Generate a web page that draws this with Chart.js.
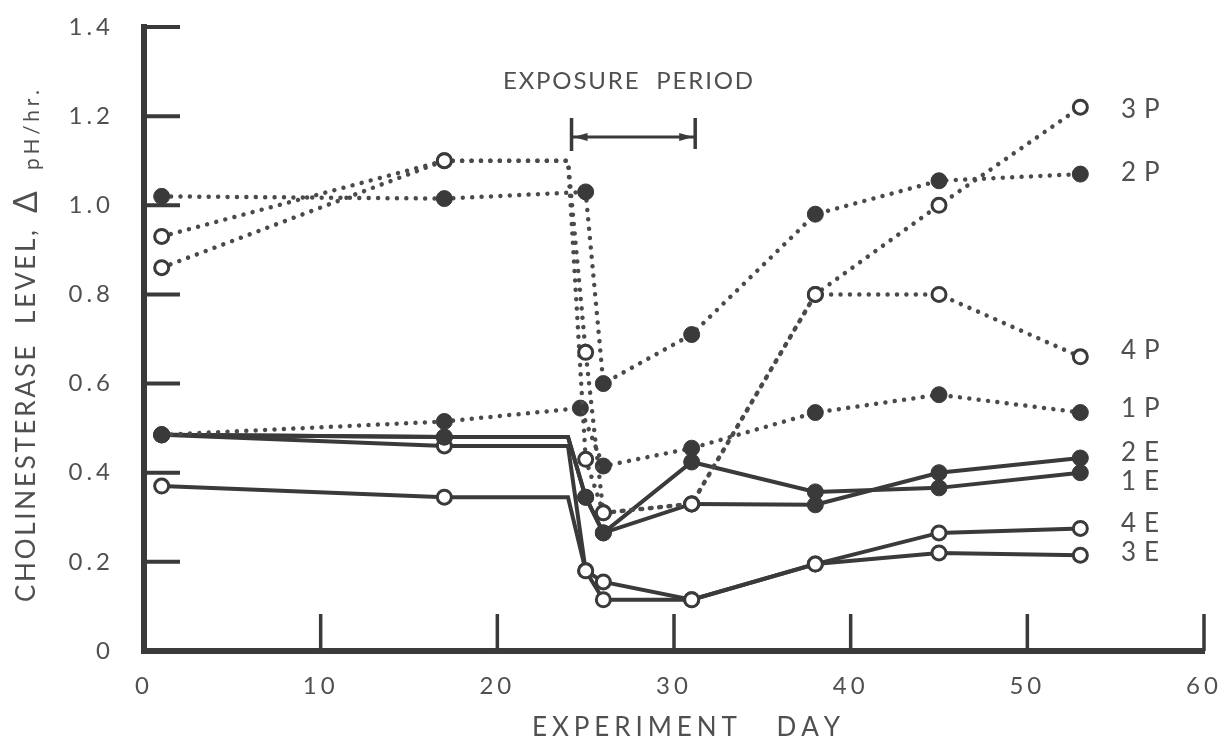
<!DOCTYPE html>
<html lang="en">
<head>
<meta charset="UTF-8">
<title>Cholinesterase level vs experiment day</title>
<script src="https://cdn.jsdelivr.net/npm/chart.js"></script>
<style>
    body { margin: 0; background: #fff; }
    #wrap { width: 1218px; height: 742px; }
</style>
</head>
<body>
<div id="wrap"><canvas id="chart" width="1218" height="742"></canvas></div>
<script>
// ---- data ----
const days3P = [1, 17, 24, 25, 26, 31, 38, 45, 53];
const vals3P = [0.93, 1.10, 1.10, 0.67, 0.31, 0.33, 0.80, 1.00, 1.22];
const days4P = [1, 17, 24, 25, 26, 31, 38, 45, 53];
const vals4P = [0.86, 1.10, 1.10, 0.43, 0.31, 0.33, 0.80, 0.80, 0.66];
const days2P = [1, 17, 25, 26, 31, 38, 45, 53];
const vals2P = [1.02, 1.015, 1.03, 0.60, 0.71, 0.98, 1.055, 1.07];
const days1P = [1, 17, 24.7, 26, 31, 38, 45, 53];
const vals1P = [0.485, 0.515, 0.545, 0.415, 0.455, 0.535, 0.575, 0.535];

const days1E = [1, 17, 24, 25, 26, 31, 38, 45, 53];
const vals1E = [0.485, 0.48, 0.48, 0.345, 0.265, 0.424, 0.357, 0.366, 0.40];
const days2E = [1, 17, 24, 25, 26, 31, 38, 45, 53];
const vals2E = [0.485, 0.48, 0.48, 0.345, 0.265, 0.33, 0.328, 0.40, 0.433];
const days3E = [1, 17, 24, 25, 26, 31, 38, 45, 53];
const vals3E = [0.37, 0.345, 0.345, 0.18, 0.115, 0.115, 0.195, 0.22, 0.215];
const days4E = [1, 17, 24, 25, 26, 31, 38, 45, 53];
const vals4E = [0.485, 0.46, 0.46, 0.18, 0.155, 0.115, 0.195, 0.265, 0.275];

// day where lines turn a corner without a plotted marker
const cornerDays = [24];

const xTickLabels = ['0', '10', '20', '30', '40', '50', '60'];
const yTickLabels = ['0', '0.2', '0.4', '0.6', '0.8', '1.0', '1.2', '1.4'];

// end-of-line labels (text, level)
const endLabels = ['3P', '2P', '4P', '1P', '2E', '1E', '4E', '3E'];
const endLevels = [1.215, 1.074, 0.674, 0.543, 0.446, 0.379, 0.285, 0.220];
const exposureDays = [24.2, 31.2];

// ---- styling ----
const ink = '#3a3a3a';
const dotInk = '#4a4a4a';
const textInk = '#505050';
const fontFamily = "Lato, 'DejaVu Sans', sans-serif";

function makeSet(label, days, vals, dotted, open) {
    return {
        label: label,
        data: days.map((d, i) => ({ x: d, y: vals[i] })),
        showLine: true,
        borderColor: dotted ? dotInk : ink,
        borderWidth: dotted ? 4.5 : 4,
        borderDash: dotted ? [0.01, 9.4] : [],
        borderCapStyle: 'round',
        tension: 0,
        pointStyle: 'circle',
        pointRadius: ctx => cornerDays.includes(ctx.raw.x) ? 0 : (open ? 7 : 8),
        pointBackgroundColor: open ? '#fff' : ink,
        pointBorderColor: ink,
        pointBorderWidth: open ? 3 : 1
    };
}

// first dataset ends up on top
const datasets = [
    makeSet('3P', days3P, vals3P, true, true),
    makeSet('4P', days4P, vals4P, true, true),
    makeSet('1P', days1P, vals1P, true, false),
    makeSet('2P', days2P, vals2P, true, false),
    makeSet('1E', days1E, vals1E, false, false),
    makeSet('2E', days2E, vals2E, false, false),
    makeSet('3E', days3E, vals3E, false, true),
    makeSet('4E', days4E, vals4E, false, true)
];

// draws chars one by one so the text fills a given span
function spreadText(ctx, text, x0, y0, span) {
    const widths = [...text].map(c => ctx.measureText(c).width);
    const total = widths.reduce((a, b) => a + b, 0);
    const gap = text.length > 1 ? (span - total) / (text.length - 1) : 0;
    let x = x0;
    [...text].forEach((c, i) => {
        ctx.fillText(c, x, y0);
        x += widths[i] + gap;
    });
}

const decor = {
    id: 'decor',
    beforeDraw(chart) {
        // the old lettering is widely spaced
        chart.ctx.letterSpacing = '4px';
    },
    beforeDatasetsDraw(chart) {
        const { ctx, scales: { x, y } } = chart;
        ctx.letterSpacing = '0px';
        ctx.save();
        ctx.strokeStyle = ink;
        ctx.fillStyle = ink;
        ctx.lineWidth = 4;
        // inward ticks
        yTickLabels.forEach((t, i) => {
            if (i === 0) return;
            const py = y.getPixelForValue(i * 0.2);
            ctx.beginPath();
            ctx.moveTo(x.left, py);
            ctx.lineTo(x.left + 36, py);
            ctx.stroke();
        });
        ctx.lineWidth = 3.5;
        xTickLabels.forEach((t, i) => {
            if (i === 0) return;
            const px = x.getPixelForValue(i * 10);
            ctx.beginPath();
            ctx.moveTo(px, y.bottom);
            ctx.lineTo(px, y.bottom - 37);
            ctx.stroke();
        });
        // exposure bracket
        const bx0 = x.getPixelForValue(exposureDays[0]);
        const bx1 = x.getPixelForValue(exposureDays[1]);
        const by = y.getPixelForValue(1.153);
        ctx.lineWidth = 3.5;
        ctx.beginPath();
        ctx.moveTo(bx0, by - 19); ctx.lineTo(bx0, by + 14);
        ctx.moveTo(bx1, by - 19); ctx.lineTo(bx1, by + 12);
        ctx.stroke();
        ctx.lineWidth = 3;
        ctx.beginPath();
        ctx.moveTo(bx0, by); ctx.lineTo(bx1, by);
        ctx.stroke();
        [[bx0, 1], [bx1, -1]].forEach(([px, dir]) => {
            ctx.beginPath();
            ctx.moveTo(px + dir * 2, by);
            ctx.lineTo(px + dir * 16, by - 4);
            ctx.lineTo(px + dir * 16, by + 4);
            ctx.closePath();
            ctx.fill();
        });
        ctx.restore();
    },
    afterDraw(chart) {
        const { ctx, scales: { x, y } } = chart;
        ctx.save();
        ctx.letterSpacing = '0px';
        ctx.fillStyle = textInk;
        ctx.textBaseline = 'middle';
        ctx.textAlign = 'left';

        // exposure label
        ctx.font = `400 24px ${fontFamily}`;
        spreadText(ctx, 'EXPOSURE  PERIOD', 503, 81, 250);

        // x title
        ctx.font = `400 26px ${fontFamily}`;
        spreadText(ctx, 'EXPERIMENT   DAY', 532, 728, 308);

        // end labels
        ctx.font = `400 26px ${fontFamily}`;
        endLabels.forEach((t, i) => {
            const py = y.getPixelForValue(endLevels[i]);
            const px = x.getPixelForValue(55.3);
            ctx.fillText(t[0], px, py);
            ctx.fillText(t[1], px + ctx.measureText(t[0]).width + 8, py);
        });

        // y title, rotated
        ctx.translate(27, 602);
        ctx.rotate(-Math.PI / 2);
        ctx.font = `400 26px ${fontFamily}`;
        spreadText(ctx, 'CHOLINESTERASE  LEVEL,', 0, 0, 372);
        ctx.font = `400 32px ${fontFamily}`;
        ctx.fillText('\u0394', 389, 0);
        ctx.font = `400 21px ${fontFamily}`;
        spreadText(ctx, 'pH/hr.', 432, 5, 80);
        ctx.restore();
    }
};

new Chart(document.getElementById('chart'), {
    type: 'line',
    data: { datasets: datasets },
    options: {
        responsive: false,
        animation: false,
        devicePixelRatio: 1,
        layout: { padding: { top: 27, right: 14, left: 0, bottom: 0 } },
        plugins: { legend: { display: false }, tooltip: { enabled: false } },
        scales: {
            x: {
                type: 'linear',
                min: 0,
                max: 60,
                afterFit: s => { s.height = 91; s.paddingLeft = 0; s.paddingRight = 0; },
                grid: { display: false, drawTicks: false },
                border: { display: true, color: ink, width: 6 },
                ticks: {
                    stepSize: 10,
                    padding: 21,
                    color: textInk,
                    font: { family: fontFamily, size: 24, weight: '400' },
                    callback: v => xTickLabels[Math.round(v / 10)]
                }
            },
            y: {
                type: 'linear',
                min: 0,
                max: 1.4,
                afterFit: s => { s.width = 144; s.paddingTop = 0; s.paddingBottom = 0; },
                grid: { display: false, drawTicks: false },
                border: { display: true, color: ink, width: 6 },
                ticks: {
                    stepSize: 0.2,
                    padding: 30,
                    color: textInk,
                    font: { family: fontFamily, size: 24, weight: '400' },
                    callback: v => yTickLabels[Math.round(v / 0.2)]
                }
            }
        }
    },
    plugins: [decor]
});
</script>
</body>
</html>
